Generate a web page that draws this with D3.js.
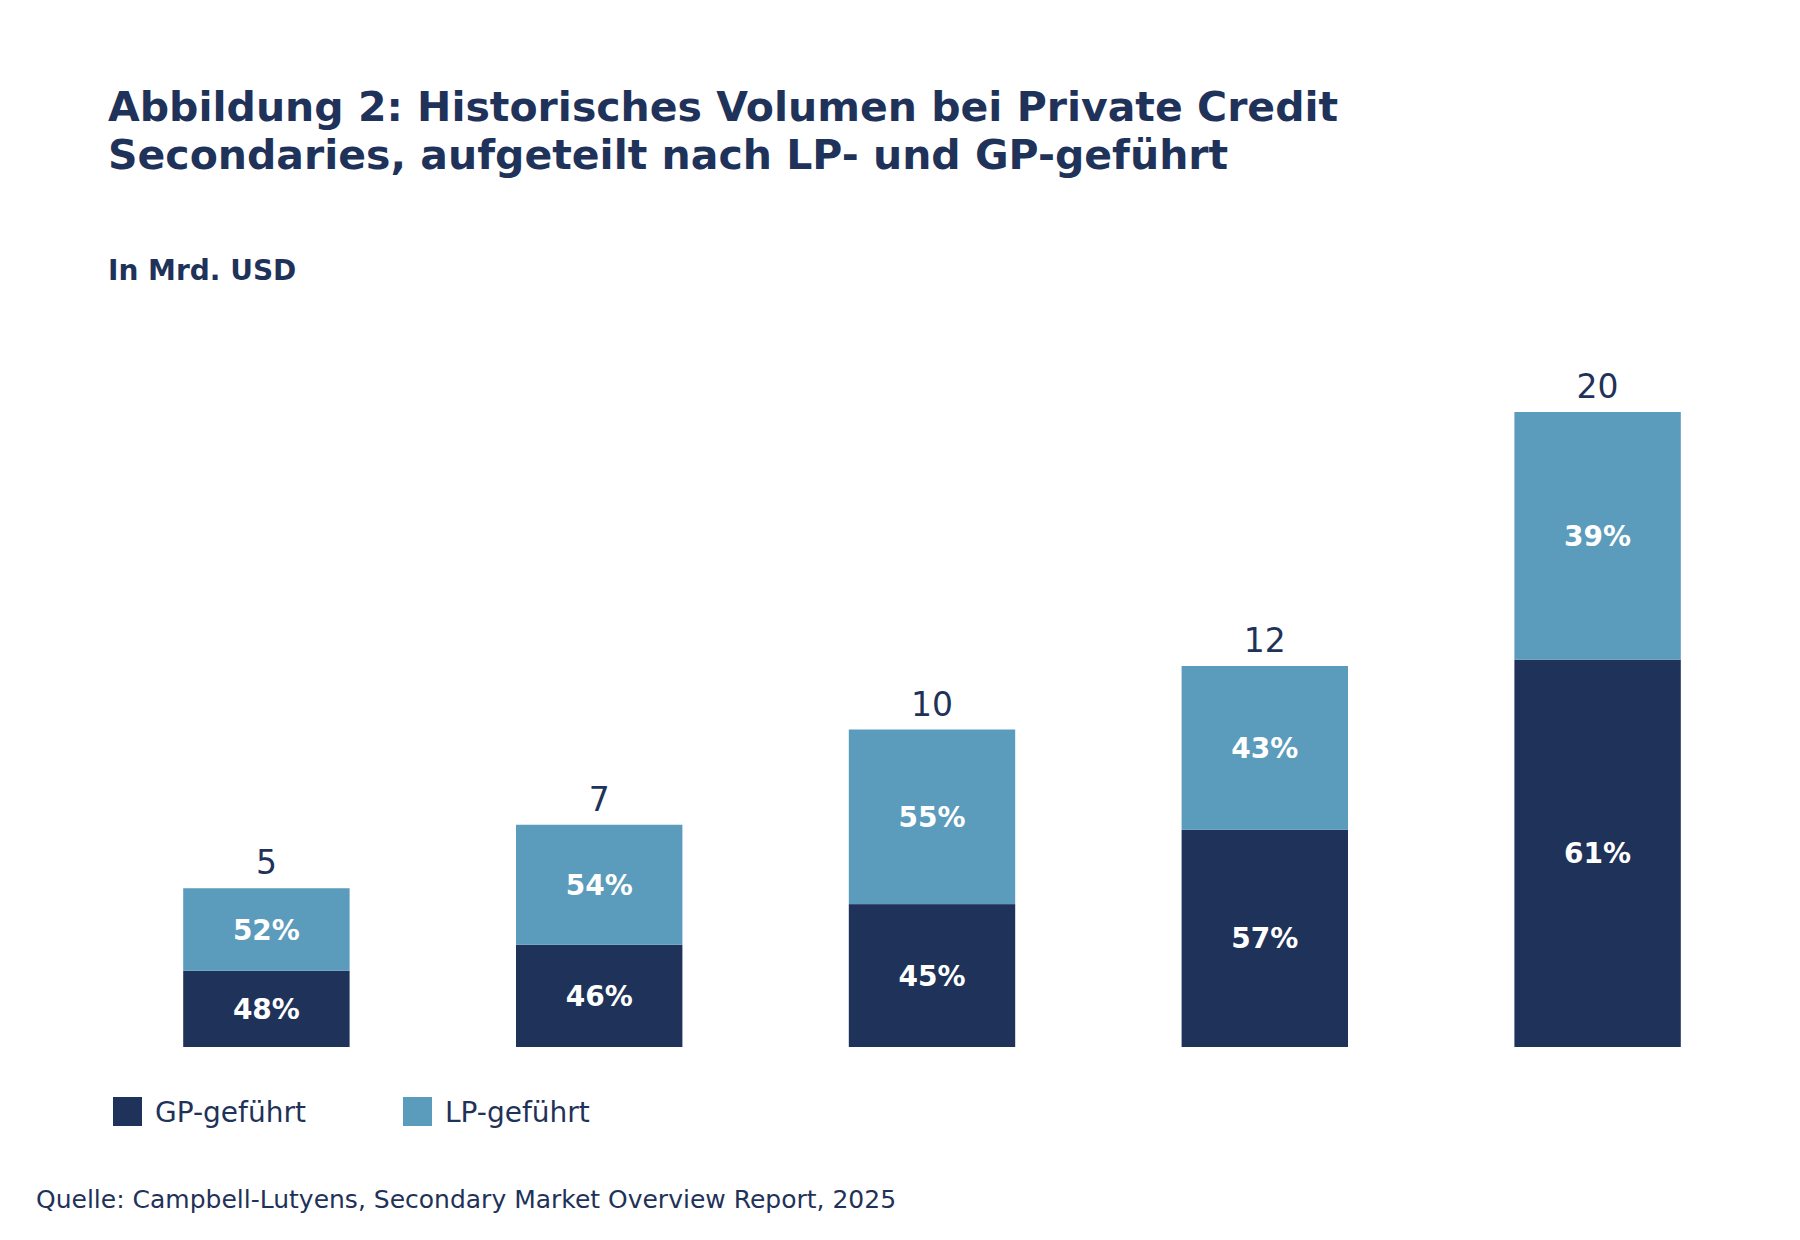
<!DOCTYPE html>
<html><head><meta charset="utf-8">
<script src="https://cdn.jsdelivr.net/npm/d3@7"></script>
<style>body{margin:0;background:#fff}svg{font-family:"DejaVu Sans",sans-serif}</style>
</head><body><svg id="c" width="1800" height="1240"></svg>
<script>
const years = ["A","B","C","D","E"];
const totals = [5, 7, 10, 12, 20];
const gpPct = [48, 46, 45, 57, 61];
const lpPct = [52, 54, 55, 43, 39];
const seriesNames = ["GP-geführt", "LP-geführt"];
const colors = ["#1f3259", "#5b9bbb"];
const ink = "#1f3259";

const svg = d3.select("#c");
const x = d3.scaleBand().domain(years).range([100, 1764]).paddingInner(0.5).paddingOuter(0.25);
const y = d3.scaleLinear().domain([0, 20]).range([1047, 412]);

svg.append("text").attr("x",108).attr("y",121).attr("font-size",41).attr("font-weight","bold").attr("fill",ink).text("Abbildung 2: Historisches Volumen bei Private Credit");
svg.append("text").attr("x",108).attr("y",169).attr("font-size",41).attr("font-weight","bold").attr("fill",ink).text("Secondaries, aufgeteilt nach LP- und GP-geführt");
svg.append("text").attr("x",108).attr("y",280).attr("font-size",28).attr("font-weight","bold").attr("fill",ink).text("In Mrd. USD");

years.forEach((yr,i)=>{
  const gp = totals[i]*gpPct[i]/100;
  const bx = x(yr), bw = x.bandwidth(), cx = bx+bw/2;
  svg.append("rect").attr("x",bx).attr("width",bw).attr("y",y(gp)).attr("height",y(0)-y(gp)).attr("fill",colors[0]);
  svg.append("rect").attr("x",bx).attr("width",bw).attr("y",y(totals[i])).attr("height",y(gp)-y(totals[i])).attr("fill",colors[1]);
  svg.append("text").attr("x",cx).attr("y",(y(0)+y(gp))/2).attr("dy","0.36em").attr("text-anchor","middle").attr("font-size",28).attr("font-weight","bold").attr("fill","#fff").text(gpPct[i]+"%");
  svg.append("text").attr("x",cx).attr("y",(y(gp)+y(totals[i]))/2).attr("dy","0.36em").attr("text-anchor","middle").attr("font-size",28).attr("font-weight","bold").attr("fill","#fff").text(lpPct[i]+"%");
  svg.append("text").attr("x",cx).attr("y",y(totals[i])-14).attr("text-anchor","middle").attr("font-size",33).attr("fill",ink).text(totals[i]);
});

const lx = [113, 403];
seriesNames.forEach((n,i)=>{
  svg.append("rect").attr("x",lx[i]).attr("y",1097).attr("width",29).attr("height",29).attr("fill",colors[i]);
  svg.append("text").attr("x",lx[i]+42).attr("y",1122).attr("font-size",28).attr("fill",ink).text(n);
});
svg.append("text").attr("x",36).attr("y",1208).attr("font-size",25).attr("fill",ink).text("Quelle: Campbell-Lutyens, Secondary Market Overview Report, 2025");
</script></body></html>
